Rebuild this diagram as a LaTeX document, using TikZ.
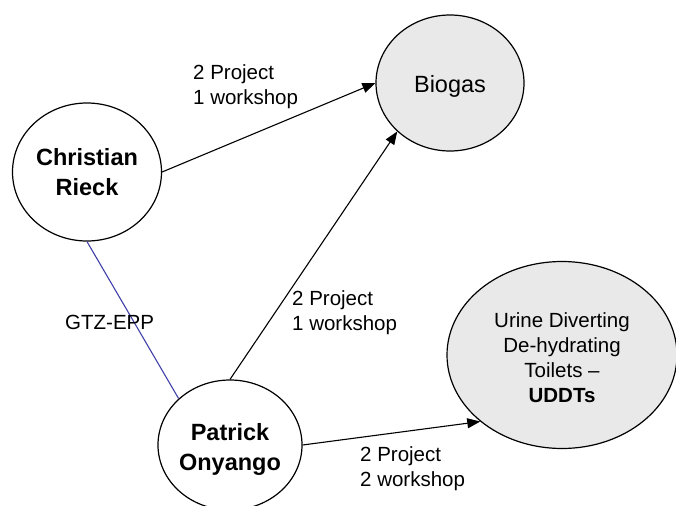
\documentclass[tikz,border=0pt]{standalone}
\usepackage{fontspec}
\setmainfont{Liberation Sans}
\usetikzlibrary{shapes.geometric,arrows.meta}
\begin{document}
\begin{tikzpicture}[x=1pt,y=-1pt,
  bubble/.style={ellipse,draw=black,line width=1.2pt,inner sep=0pt,align=center},
  person/.style={bubble,fill=white,font=\fontsize{23.5}{29.5}\selectfont\bfseries},
  topic/.style={bubble,fill=gray!17},
  lbl/.style={inner sep=0pt,align=left,anchor=west,font=\fontsize{20.5}{25}\selectfont},
  conn/.style={line width=1.1pt,-{Triangle[length=13pt,width=10pt]}},
  link/.style={line width=1.1pt,draw={rgb,255:red,64;green,64;blue,170}}]
\useasboundingbox (0,0) rectangle (676,505);
\node[person,minimum width=149pt,minimum height=138pt] (cr) at (87,172) {Christian\\Rieck};
\node[person,minimum width=138pt,minimum height=130pt] (po) at (230,445) {\rule{0pt}{26pt}Patrick\\Onyango};
\node[topic,minimum width=148pt,minimum height=136pt,font=\fontsize{23.5}{28}\selectfont] (bio) at (450,83) {\rule{0pt}{24pt}Biogas};
\node[topic,minimum width=230pt,minimum height=187pt,font=\fontsize{20.5}{25}\selectfont] (ud) at (562,355) {\rule{0pt}{21pt}Urine Diverting\\De-hydrating\\Toilets --\\\textbf{UDDTs}};
\draw[conn] (cr.east) -- (bio.west);
\draw[conn] (po.north) -- (bio.south west);
\draw[conn] (po.east) -- (ud.south west);
\draw[link] (cr.south) -- (po.north west);
\node[lbl] (l1) at (193,87) {2 Project\\1 workshop};
\node[lbl] (l2) at (292,313) {2 Project\\1 workshop};
\node[lbl] (l3) at (360,469) {2 Project\\2 workshop};
\node[lbl] (l4) at (65,322) {GTZ-EPP};
\end{tikzpicture}
\end{document}
